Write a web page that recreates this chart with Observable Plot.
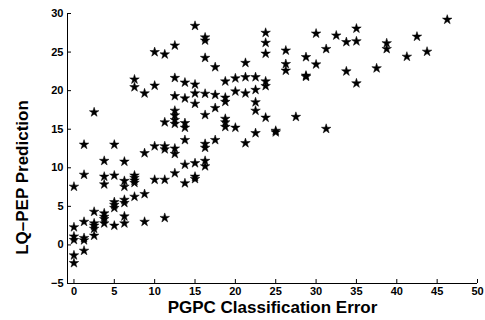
<!DOCTYPE html>
<html><head><meta charset="utf-8">
<script src="https://cdn.jsdelivr.net/npm/d3@7"></script>
<script src="https://cdn.jsdelivr.net/npm/@observablehq/plot@0.6"></script>
<style>body{margin:0;background:#fff;}</style>
</head><body><div id="chart"></div>
<script>
// PGPC classification error (x) and LQ-PEP prediction (y), one entry per star
const pgpcError = [
  0,0,0,0,0,0,
  1.25,1.25,1.25,1.25,1.25,1.25,
  2.5,2.5,2.5,2.5,2.5,2.5,
  3.75,3.75,3.75,3.75,3.75,3.75,3.75,
  5,5,5,5,5,5,
  6.25,6.25,6.25,6.25,6.25,6.25,6.25,
  7.5,7.5,7.5,7.5,7.5,7.5,7.5,
  8.75,8.75,8.75,8.75,
  10,10,10,10,
  11.25,11.25,11.25,11.25,11.25,11.25,
  12.5,12.5,12.5,12.5,12.5,12.5,12.5,12.5,12.5,12.5,
  13.75,13.75,13.75,13.75,13.75,13.75,13.75,
  15,15,15,15,15,15,15,
  16.25,16.25,16.25,16.25,16.25,16.25,16.25,16.25,16.25,
  17.5,17.5,17.5,17.5,
  18.75,18.75,18.75,18.75,18.75,18.75,
  20,20,20,
  21.25,21.25,21.25,21.25,
  22.5,22.5,22.5,22.5,22.5,
  23.75,23.75,23.75,23.75,23.75,23.75,
  25,25,
  26.25,26.25,26.25,
  27.5,
  28.75,28.75,28.75,
  30,30,
  31.25,31.25,
  32.5,
  33.75,33.75,
  35,35,35,
  37.5,
  38.75,38.75,
  41.25,
  42.5,
  43.75,
  46.25
];
const lqpepPrediction = [
  7.55,2.3,1.1,0.65,-1.35,-2.35,
  13.0,9.1,3.0,0.9,0.6,-0.75,
  17.2,4.3,2.8,2.5,2.1,1.2,
  10.9,8.85,7.85,4.1,3.65,3.35,2.8,
  13.0,9.0,5.55,5.2,4.8,2.5,
  10.8,8.3,7.55,5.85,5.45,3.7,2.8,
  21.45,20.45,9.0,8.7,8.35,8.05,6.25,
  19.65,11.9,6.6,3.0,
  25.0,20.65,12.8,8.45,
  24.7,15.9,12.8,12.4,8.45,3.5,
  25.85,21.65,19.3,17.4,16.8,16.2,15.7,12.5,11.8,9.3,
  21.05,19.0,15.8,15.2,13.6,10.4,8.0,
  28.4,20.8,19.65,18.3,10.6,8.85,8.55,
  26.9,26.5,24.25,19.6,16.85,13.1,12.6,10.9,10.2,
  23.05,19.45,17.75,13.6,
  21.2,19.1,18.55,16.35,15.9,15.3,
  21.6,19.9,15.2,
  23.6,21.75,19.65,13.2,
  21.75,20.1,18.5,17.4,14.5,
  27.5,26.2,24.8,21.2,20.6,16.5,
  14.8,14.6,
  25.2,23.45,22.6,
  16.6,
  24.35,21.95,21.8,
  27.4,23.4,
  25.4,15.05,
  27.15,
  26.3,22.5,
  28.05,26.4,20.95,
  22.9,
  26.15,25.4,
  24.4,
  27.0,
  25.05,
  29.2
];
const xDomain = [-0.8, 50];
const yDomain = [-5, 30];
const xTicks = [0,5,10,15,20,25,30,35,40,45,50];
const yTicks = [-5,0,5,10,15,20,25,30];
const xTitle = "PGPC Classification Error";
const yTitle = "LQ\u2013PEP Prediction";

const points = pgpcError.map((x, i) => ({x, y: lqpepPrediction[i]}));

const chart = Plot.plot({
  width: 485, height: 320,
  marginLeft: 67, marginRight: 8, marginTop: 13, marginBottom: 37,
  style: {fontFamily: "'Liberation Sans', Arial, Helvetica, sans-serif", fontWeight: "bold", fontSize: "11px", color: "black", background: "white"},
  x: {domain: xDomain},
  y: {domain: yDomain},
  marks: [
    Plot.axisX(xTicks, {tickSize: -4, tickPadding: 8, label: null, fontWeight: "bold", fontSize: 11}),
    Plot.axisY(yTicks, {tickSize: -4, tickPadding: 8, label: null, fontWeight: "bold", fontSize: 11}),
    Plot.ruleX([xDomain[0]], {y1: yDomain[0], y2: yDomain[1], stroke: "black"}),
    Plot.ruleY([yDomain[0]], {x1: xDomain[0], x2: xDomain[1], stroke: "black"}),
    Plot.dot(points, {x: "x", y: "y", symbol: "star", r: 3, fill: "black", stroke: "black", strokeWidth: 0.5}),
    Plot.text([xTitle], {frameAnchor: "bottom", dy: 24, lineAnchor: "middle", textAnchor: "middle", fontSize: 17, fontWeight: "bold"}),
    Plot.text([yTitle], {frameAnchor: "left", dx: -45, dy: 29, rotate: -90, lineAnchor: "middle", textAnchor: "middle", fontSize: 17, fontWeight: "bold"})
  ]
});
document.getElementById("chart").appendChild(chart);
</script>
</body></html>
